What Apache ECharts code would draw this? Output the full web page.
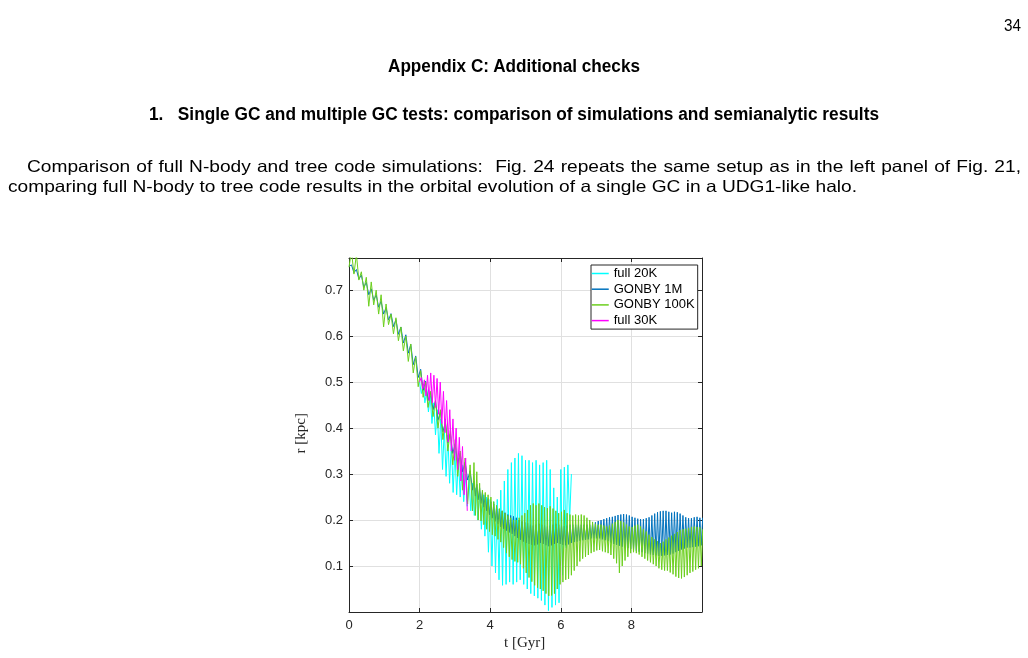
<!DOCTYPE html>
<html><head><meta charset="utf-8">
<script src="https://cdn.jsdelivr.net/npm/echarts@6/dist/echarts.min.js"></script>
<style>
html,body{margin:0;padding:0;background:#fff;width:1028px;height:658px;overflow:hidden}
#chart{position:absolute;left:0;top:0;width:1028px;height:658px}
.t{position:absolute;white-space:nowrap;font-family:'Liberation Sans',Arial,sans-serif;font-size:17.5px;line-height:17.5px;color:#000;transform-origin:0 0;display:inline-block}
.p{font-size:16.5px;line-height:16.5px}
.b{font-weight:bold}
</style></head><body>
<div id="chart"></div>
<div class="t p" id="pn">34</div>
<div class="t b" id="h1">Appendix C: Additional checks</div>
<div class="t b" id="h2">1.&nbsp;&nbsp;&nbsp;Single GC and multiple GC tests: comparison of simulations and semianalytic results</div>
<div class="t p" id="p1" style="white-space:normal;text-align:justify;text-align-last:justify">Comparison of full N-body and tree code simulations: &nbsp;Fig. 24 repeats the same setup as in the left panel of Fig. 21,</div>
<div class="t p" id="p2">comparing full N-body to tree code results in the orbital evolution of a single GC in a UDG1-like halo.</div>
<script>
// ---------------- data ----------------
const seriesNames = ['full 20K', 'GONBY 1M', 'GONBY 100K', 'full 30K'];
const xTicks = [0, 2, 4, 6, 8];
const yTicks = [0.1, 0.2, 0.3, 0.4, 0.5, 0.6, 0.7];

// early phase (t from 0, orbit period ~0.14 Gyr): troughs at 0.14*i, peaks at 0.14*i+0.07
const greenEarlyLo = [0.750,0.735,0.722,0.700,0.665,0.668,0.648,0.620,0.625,0.605,0.590,0.568,0.545,0.520,0.490,0.467,0.445,0.425,0.400,0.375,0.350,0.320,0.295,0.265,0.235];
const greenEarlyHi = [0.785,0.778,0.740,0.728,0.718,0.700,0.690,0.670,0.648,0.640,0.620,0.600,0.583,0.555,0.525,0.500,0.480,0.460,0.440,0.420,0.395,0.375,0.350,0.335,0.320];
const blueEarlyLo  = [0.752,0.738,0.724,0.706,0.690,0.678,0.663,0.648,0.635,0.621,0.604,0.585,0.563,0.538,0.510,0.482,0.460,0.440,0.417,0.392,0.368,0.345,0.323,0.305,0.287];
const blueEarlyHi  = [0.755,0.745,0.733,0.717,0.703,0.690,0.676,0.662,0.649,0.636,0.620,0.603,0.582,0.557,0.528,0.502,0.478,0.459,0.436,0.412,0.388,0.366,0.345,0.326,0.307];

// late phase (t from 3.5, period ~0.08 Gyr): troughs at 3.5+0.08*j, peaks at 3.54+0.08*j
const greenLateLo = [0.220,0.210,0.200,0.198,0.190,0.180,0.175,0.168,0.165,0.158,
  0.152,0.140,0.128,0.120,0.114,0.110,0.108,0.104,0.095,0.085,
  0.075,0.066,0.058,0.053,0.050,0.046,0.040,0.035,0.036,0.040,
  0.050,0.060,0.065,0.070,0.072,0.080,0.090,0.100,0.110,0.116,
  0.120,0.124,0.128,0.131,0.134,0.135,0.132,0.130,0.128,0.124,
  0.116,0.106,0.085,0.100,0.112,0.120,0.128,0.130,0.128,0.125,
  0.120,0.116,0.112,0.108,0.104,0.100,0.095,0.092,0.090,0.090,
  0.086,0.082,0.077,0.074,0.073,0.076,0.080,0.085,0.088,0.092,
  0.095,0.100];
const greenLateHi = [0.325,0.305,0.280,0.265,0.260,0.255,0.250,0.240,0.232,0.225,
  0.220,0.215,0.210,0.205,0.200,0.200,0.205,0.210,0.215,0.222,
  0.232,0.236,0.232,0.236,0.232,0.228,0.226,0.230,0.225,0.220,
  0.215,0.218,0.222,0.215,0.212,0.210,0.212,0.210,0.212,0.210,
  0.205,0.200,0.196,0.192,0.190,0.190,0.188,0.186,0.188,0.192,
  0.196,0.200,0.198,0.195,0.190,0.186,0.185,0.188,0.190,0.186,
  0.180,0.175,0.168,0.163,0.158,0.154,0.150,0.153,0.158,0.162,
  0.166,0.170,0.174,0.178,0.180,0.181,0.183,0.185,0.186,0.185,
  0.184,0.180];
const blueLateLo = [0.265,0.252,0.244,0.236,0.228,0.220,0.211,0.204,0.197,0.191,
  0.185,0.181,0.177,0.173,0.170,0.165,0.161,0.157,0.153,0.150,
  0.148,0.146,0.145,0.147,0.150,0.148,0.145,0.143,0.145,0.148,
  0.150,0.148,0.146,0.145,0.147,0.150,0.152,0.153,0.155,0.156,
  0.157,0.158,0.160,0.160,0.160,0.160,0.158,0.156,0.154,0.151,
  0.148,0.146,0.144,0.142,0.140,0.139,0.137,0.135,0.133,0.131,
  0.130,0.128,0.127,0.125,0.124,0.123,0.122,0.122,0.123,0.124,
  0.125,0.127,0.130,0.133,0.136,0.138,0.140,0.140,0.141,0.142,
  0.143,0.145];
const blueLateHi = [0.285,0.278,0.270,0.262,0.255,0.247,0.240,0.235,0.228,0.224,
  0.220,0.216,0.212,0.210,0.208,0.205,0.200,0.197,0.195,0.193,
  0.190,0.188,0.190,0.192,0.190,0.188,0.186,0.188,0.190,0.192,
  0.190,0.188,0.187,0.188,0.190,0.190,0.190,0.190,0.190,0.190,
  0.190,0.190,0.192,0.195,0.198,0.200,0.202,0.204,0.206,0.207,
  0.209,0.211,0.212,0.213,0.212,0.210,0.207,0.205,0.203,0.202,
  0.202,0.204,0.206,0.210,0.214,0.217,0.219,0.220,0.220,0.218,
  0.216,0.218,0.217,0.214,0.210,0.206,0.204,0.204,0.206,0.207,
  0.205,0.205];

// full 20K (from t=2.0, period ~0.1 Gyr): peaks at 2.0+0.1*k, troughs at 2.05+0.1*k
const cyanHi = [0.500,0.495,0.480,0.470,0.455,0.440,0.420,0.400,0.385,0.370,
  0.350,0.335,0.320,0.300,0.290,0.280,0.270,0.260,0.255,0.250,
  0.245,0.240,0.245,0.265,0.285,0.310,0.325,0.335,0.345,0.340,
  0.330,0.330,0.325,0.330,0.320,0.325,0.330,0.310,0.270,0.250,
  0.310,0.315,0.320,0.300];
const cyanLo = [0.475,0.455,0.435,0.410,0.385,0.345,0.310,0.295,0.280,0.260,
  0.255,0.250,0.240,0.230,0.220,0.210,0.200,0.180,0.165,0.130,
  0.100,0.085,0.070,0.058,0.060,0.065,0.060,0.065,0.070,0.060,
  0.050,0.040,0.035,0.030,0.025,0.015,0.003,0.010,0.015,0.020,
  0.080,0.140,0.200];

// full 30K (from t=2.0, period ~0.09 Gyr): troughs at 2.0+0.09*k, peaks at 2.045+0.09*k
const magentaLo = [0.500,0.485,0.470,0.460,0.455,0.445,0.430,0.410,0.390,0.370,0.350,0.330,0.310,0.285,0.255,0.220];
const magentaHi = [0.510,0.505,0.515,0.520,0.515,0.508,0.500,0.480,0.460,0.440,0.420,0.400,0.380,0.360,0.335];

// ---------------- build ----------------
function zigzag(t0, period, first, second) {
  const pts = [];
  for (let i = 0; i < first.length; i++) {
    pts.push([+(t0 + period * i).toFixed(4), first[i]]);
    if (i < second.length) pts.push([+(t0 + period * i + period / 2).toFixed(4), second[i]]);
  }
  return pts;
}
const cyanData = zigzag(2.0, 0.1, cyanHi, cyanLo);
const blueData = zigzag(0, 0.14, blueEarlyLo, blueEarlyHi).concat(zigzag(3.5, 0.08, blueLateLo, blueLateHi));
const greenData = zigzag(0, 0.14, greenEarlyLo, greenEarlyHi).concat(zigzag(3.5, 0.08, greenLateLo, greenLateHi));
const magentaData = zigzag(2.0, 0.09, magentaLo, magentaHi);

const colors = ['#00FFFF', '#0072BD', '#6CCF1E', '#FF00FF'];
const axisCol = '#262626';
const labelFont = "'Liberation Sans', Arial, sans-serif";

const chart = echarts.init(document.getElementById('chart'), null, {renderer: 'canvas'});
const commonAxis = {
  axisLine: {show: true, onZero: false, lineStyle: {color: axisCol, width: 1}},
  axisTick: {show: true, inside: true, length: 4, lineStyle: {color: axisCol, width: 1}},
};
function lineSeries(i, data) {
  return {name: seriesNames[i], type: 'line', data: data, symbol: 'none', showSymbol: false,
    lineStyle: {width: 1, color: colors[i]}, itemStyle: {color: colors[i]}, clip: true};
}
chart.setOption({
  animation: false,
  color: colors,
  grid: {left: 349, top: 258, width: 353, height: 354, containLabel: false},
  legend: {
    data: seriesNames, orient: 'vertical', left: 591, top: 265,
    itemWidth: 17, itemHeight: 13, itemGap: 2.7, padding: [2, 3, 2, 0],
    borderColor: axisCol, borderWidth: 1, backgroundColor: '#fff', borderRadius: 0,
    itemStyle: {opacity: 0},
    lineStyle: {width: 1.5, opacity: 1},
    textStyle: {fontSize: 13, lineHeight: 13, color: '#000', fontFamily: labelFont}
  },
  xAxis: [
    Object.assign({type: 'value', min: 0, max: 10, interval: 2, position: 'bottom',
      axisLabel: {color: axisCol, fontSize: 13, fontFamily: labelFont, margin: 7, showMaxLabel: false,
        formatter: v => xTicks.includes(v) ? String(v) : ''},
      splitLine: {show: true, lineStyle: {color: '#e0e0e0', width: 1}}}, commonAxis),
    Object.assign({type: 'value', min: 0, max: 10, interval: 2, position: 'top',
      axisLabel: {show: false}, splitLine: {show: false}}, commonAxis)
  ],
  yAxis: [
    Object.assign({type: 'value', min: 0, max: 0.77, interval: 0.1, position: 'left',
      axisLabel: {color: axisCol, fontSize: 13, fontFamily: labelFont, margin: 6, showMinLabel: false, showMaxLabel: false,
        formatter: v => { const r = Math.round(v * 10) / 10; return yTicks.includes(r) ? r.toFixed(1) : ''; }},
      splitLine: {show: true, lineStyle: {color: '#e0e0e0', width: 1}}}, commonAxis),
    Object.assign({type: 'value', min: 0, max: 0.77, interval: 0.1, position: 'right',
      axisLabel: {show: false}, splitLine: {show: false}}, commonAxis)
  ],
  graphic: [
    {type: 'text', left: 294, top: 413, rotation: Math.PI / 2,
      style: {text: 'r [kpc]', font: "15px 'Liberation Serif', 'DejaVu Serif', serif", fill: axisCol}},
    {type: 'text', left: 504, top: 636,
      style: {text: 't [Gyr]', font: "15px 'Liberation Serif', 'DejaVu Serif', serif", fill: axisCol}}
  ],
  series: [
    lineSeries(0, cyanData),
    lineSeries(1, blueData),
    lineSeries(2, greenData),
    lineSeries(3, magentaData)
  ]
});

// ---------------- page text layout ----------------
function place(id, left, right, cy) {
  const el = document.getElementById(id);
  el.style.transform = 'none';
  const fs = parseFloat(getComputedStyle(el).fontSize);
  const w = el.getBoundingClientRect().width;
  const k = (right - left) / w;
  el.style.left = left + 'px';
  el.style.top = (cy - 0.49 * fs) + 'px';
  el.style.transform = 'scaleX(' + k + ')';
  return k;
}
function layout() {
  place('pn', 1004, 1021, 25);
  place('h1', 388, 640, 67);
  place('h2', 149, 879, 115);
  const k2 = place('p2', 8, 857, 186);
  const p1 = document.getElementById('p1');
  const fs = parseFloat(getComputedStyle(p1).fontSize);
  p1.style.width = ((1021 - 27) / k2) + 'px';
  p1.style.left = '27px';
  p1.style.top = (166 - 0.49 * fs) + 'px';
  p1.style.transform = 'scaleX(' + k2 + ')';
}
layout();
if (document.fonts && document.fonts.ready) document.fonts.ready.then(layout);
</script>
</body></html>
